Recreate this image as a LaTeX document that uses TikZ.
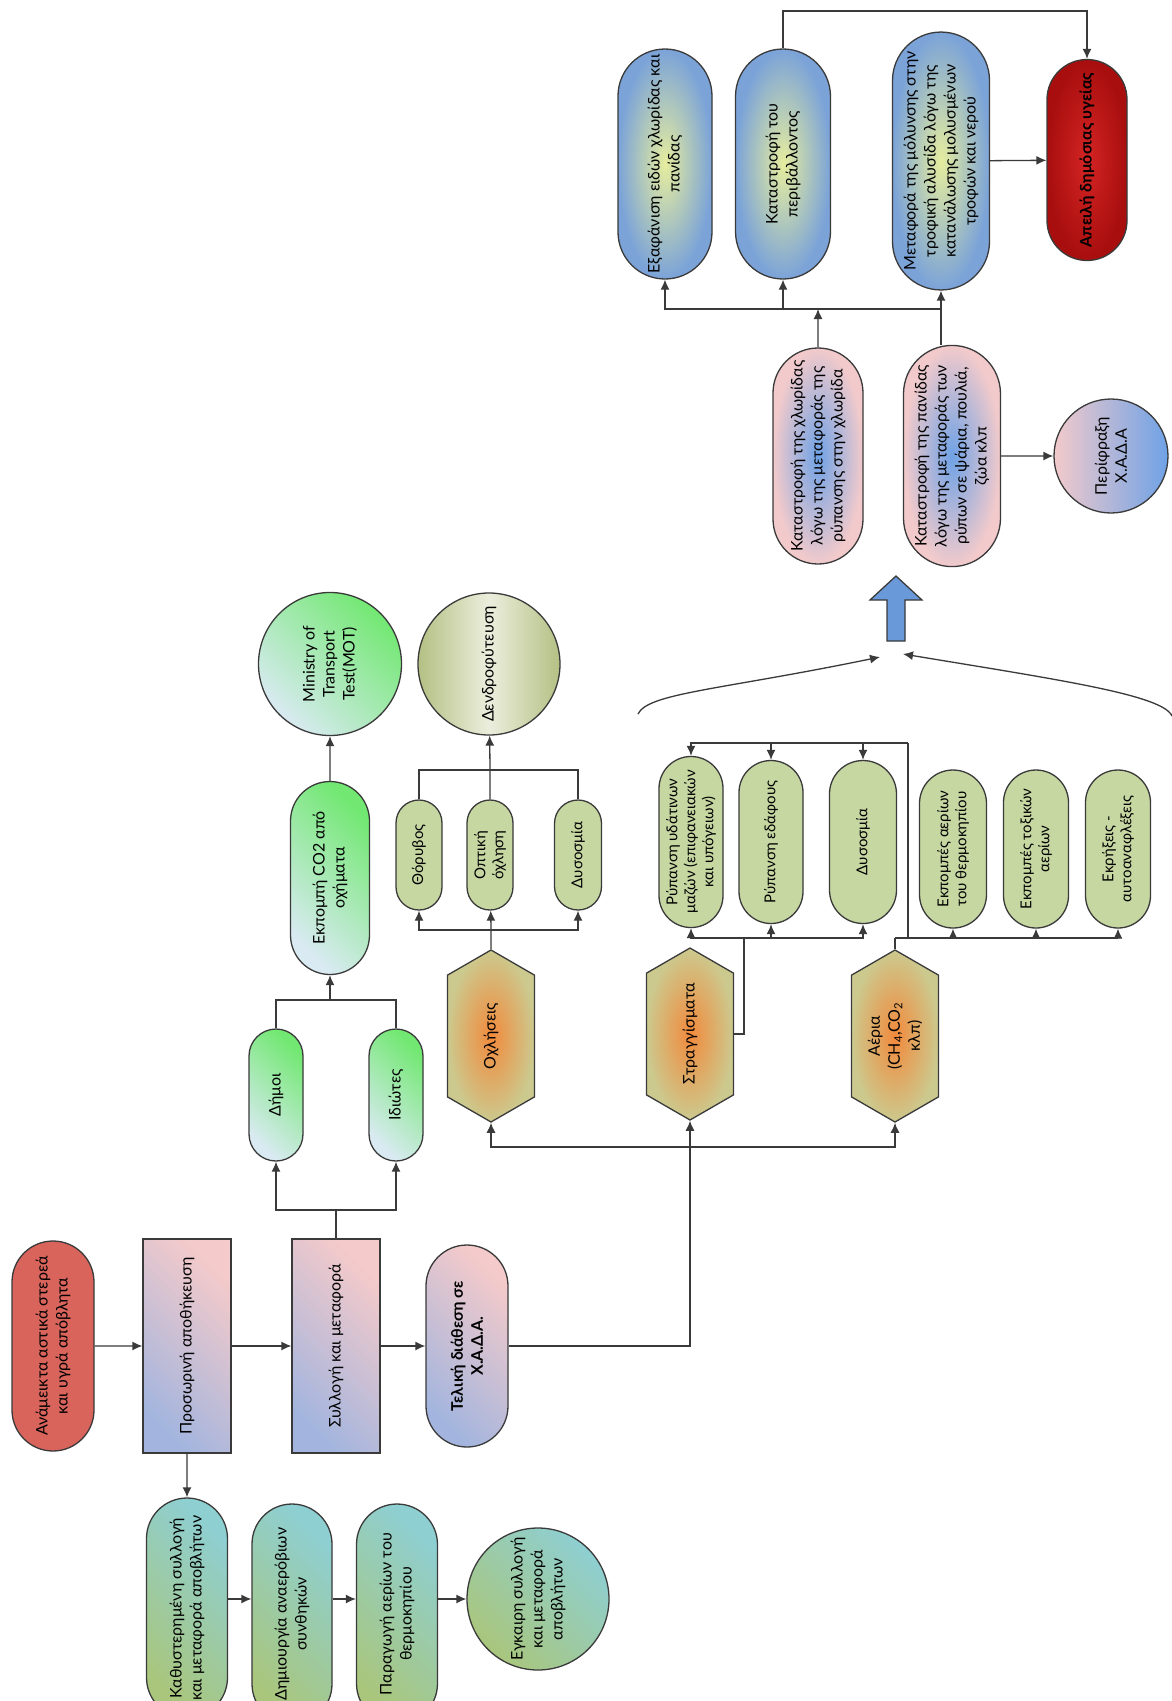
\documentclass[tikz,border=0pt]{standalone}
\usepackage{fontspec}
\setmainfont{Lato}
\usetikzlibrary{shapes.misc,shapes.symbols,calc,arrows.meta}

\definecolor{edge}{HTML}{3A3A3A}
\definecolor{mixred}{HTML}{D8645C}
\definecolor{pinkish}{HTML}{F4CACA}
\definecolor{bluish}{HTML}{A3B5DE}
\definecolor{leaf}{HTML}{A9C67C}
\definecolor{teal}{HTML}{8ECFD2}
\definecolor{skyish}{HTML}{D9EAF2}
\definecolor{lime}{HTML}{72E872}
\definecolor{olive}{HTML}{C6D7A2}
\definecolor{olivedark}{HTML}{B4C084}
\definecolor{olivelight}{HTML}{ECEEDD}
\definecolor{hexolive}{HTML}{CCC98E}
\definecolor{hexorange}{HTML}{F28A3C}
\definecolor{steel}{HTML}{7BA3D8}
\definecolor{sun}{HTML}{E6ED9E}
\definecolor{rose}{HTML}{F2CACB}
\definecolor{cobalt}{HTML}{6FA2E6}
\definecolor{alarm}{HTML}{D42424}
\definecolor{alarmdark}{HTML}{A80E0E}
\definecolor{bigblue}{HTML}{6A99D9}

\tikzset{
  ->/.style={draw=edge,line width=1.3pt,-{Latex[length=10pt,width=9pt]}},
  line/.style={draw=edge,line width=1.3pt},
  pill/.style={rounded rectangle,draw=edge,line width=1.3pt,rotate=90,inner sep=2pt,align=center},
  box/.style={rectangle,draw=edge,line width=1.3pt,rotate=90,inner sep=2pt,align=center},
  ball/.style={circle,draw=edge,line width=1.3pt,rotate=90,inner sep=1pt,align=center},
  hexa/.style={signal,signal to=east and west,signal pointer angle=120,draw=edge,line width=1.3pt,
    rotate=90,inner sep=2pt,align=center,inner color=hexorange,outer color=hexolive},
  redpill/.style={fill=mixred},
  pinkblue/.style={bottom color=bluish,top color=pinkish,shading angle=-45},
  leafteal/.style={bottom color=leaf,top color=teal,shading angle=-45},
  skylime/.style={bottom color=skyish,top color=lime,shading angle=-45},
  olivepill/.style={fill=olive},
  bluesun/.style={inner color=sun,outer color=steel},
  rosecobalt/.style={inner color=cobalt,outer color=rose},
  small/.style={font=\fontsize{15}{18}\selectfont}
}
\tikzstyle{every node}=[color=black,font=\fontsize{16}{20}\selectfont]

\begin{document}
\begin{tikzpicture}[x=1pt,y=-1pt]
    \useasboundingbox (0,0) rectangle (1172,1701);
    \fill[white] (0,0) rectangle (1172,1701);
    \clip (0,0) rectangle (1172,1701);

    % main chain
    \node[pill,redpill,minimum width=214pt,minimum height=82pt] (MIX) at (53,1346) {Ανάμεικτα αστικά στερεά\\και υγρά απόβλητα};
    \node[box,pinkblue,minimum width=214pt,minimum height=88pt] (TMP) at (187,1346) {Προσωρινή αποθήκευση};
    \node[box,pinkblue,minimum width=214pt,minimum height=88pt] (COL) at (336,1346) {Συλλογή και μεταφορά};
    \node[pill,pinkblue,minimum width=206pt,minimum height=82pt,font=\fontsize{16}{20}\selectfont\bfseries] (FIN) at (467,1346) {Τελική διάθεση σε\\Χ.Α.Δ.Α.};

    % bottom row
    \node[pill,leafteal,minimum width=224pt,minimum height=81pt] (LATE) at (187,1608) {Καθυστερημένη συλλογή\\και μεταφορά αποβλήτων};
    \node[pill,leafteal,minimum width=224pt,minimum height=80pt] (ANA) at (292,1614) {Δημιουργία αναερόβιων\\συνθηκών};
    \node[pill,leafteal,minimum width=224pt,minimum height=81pt] (GAS) at (397,1614) {Παραγωγή αερίων του\\θερμοκηπίου};
    \node[ball,leafteal,minimum size=142pt] (TIME) at (538,1599) {Εγκαιρη συλλογή\\και μεταφορά\\αποβλήτων};

    % vehicles
    \node[pill,skylime,minimum width=136pt,minimum height=54pt] (DIM) at (276,1095) {Δήμοι};
    \node[pill,skylime,minimum width=136pt,minimum height=54pt] (IDI) at (396,1095) {Ιδιώτες};
    \node[pill,skylime,minimum width=197pt,minimum height=79pt] (CO2) at (330,878) {Εκπομπή CO2 από\\οχήματα};
    \node[ball,skylime,minimum size=143pt] (MOT) at (330,664) {Ministry of\\Transport\\Test(MOT)};

    % nuisances
    \node[hexa,minimum width=172pt,minimum height=87pt] (OCH) at (491,1036) {Οχλήσεις};
    \node[pill,olivepill,small,minimum width=114pt,minimum height=46pt] (THO) at (419,855) {Θόρυβος};
    \node[pill,olivepill,small,minimum width=114pt,minimum height=46pt] (OPT) at (490,855) {Οπτική\\όχληση};
    \node[pill,olivepill,small,minimum width=114pt,minimum height=47pt] (DYS) at (578,855) {Δυσοσμία};
    \node[ball,left color=olivedark,right color=olivedark,middle color=olivelight,minimum size=142pt] (DEN) at (489,664) {Δενδροφύτευση};

    % leachate and gases
    \node[hexa,minimum width=172pt,minimum height=87pt] (STR) at (690,1034) {Στραγγίσματα};
    \node[hexa,minimum width=172pt,minimum height=87pt] (AER) at (895,1036) {Αέρια\\(CH\textsubscript{4},CO\textsubscript{2}\\κλπ)};
    \node[pill,olivepill,small,minimum width=167pt,minimum height=64pt] (WAT) at (691,842) {Ρύπανση υδάτινων\\μαζών (επιφανειακών\\και υπόγειων)};
    \node[pill,olivepill,small,minimum width=167pt,minimum height=64pt] (SOIL) at (771,842) {Ρύπανση εδάφους};
    \node[pill,olivepill,small,minimum width=167pt,minimum height=67pt] (ODR) at (863,842) {Δυσοσμία};
    \node[pill,olivepill,small,minimum width=162pt,minimum height=67pt] (GHG) at (953,849) {Εκπομπές αερίων\\του θερμοκηπίου};
    \node[pill,olivepill,small,minimum width=162pt,minimum height=65pt] (TOX) at (1036,849) {Εκπομπές τοξικών\\αερίων};
    \node[pill,olivepill,small,minimum width=162pt,minimum height=65pt] (EXP) at (1118,849) {Εκρήξεις -\\αυτοαναφλέξεις};

    % effects
    \node[pill,rosecobalt,minimum width=220pt,minimum height=90pt] (FLO) at (818,456) {Καταστροφή της χλωρίδας\\λόγω της μεταφοράς της\\ρύπανσης στην χλωρίδα};
    \node[pill,rosecobalt,minimum width=220pt,minimum height=97pt] (FAU) at (952,456) {Καταστροφή της πανίδας\\λόγω της μεταφοράς των\\ρύπων σε ψάρια, πουλιά,\\ζώα κλπ};
    \node[ball,left color=rose,right color=cobalt,minimum size=114pt] (FEN) at (1111,456) {Περίφραξη\\Χ.Α.Δ.Α};
    \node[pill,bluesun,minimum width=234pt,minimum height=94pt] (EXT) at (665,164) {Εξαφάνιση ειδών χλωρίδας και\\πανίδας};
    \node[pill,bluesun,minimum width=234pt,minimum height=95pt] (ENV) at (783,164) {Καταστροφή του\\περιβάλλοντος};
    \node[pill,bluesun,minimum width=241pt,minimum height=97pt] (FOOD) at (941,161) {Μεταφορά της μόλυνσης στην\\τροφική αλυσίδα λόγω της\\κατανάλωσης μολυσμένων\\τροφών και νερού};
    \node[pill,inner color=alarm,outer color=alarmdark,minimum width=205pt,minimum height=80pt,font=\fontsize{16}{20}\selectfont\bfseries] (RISK) at (1087,160) {Απειλή δημόσιας υγείας};

    % junctions
    \coordinate (J1) at (690,1147);
    \coordinate (J2) at (336,1210);
    \coordinate (J3) at (330,1000);
    \coordinate (J4) at (491,930);
    \coordinate (J5) at (490,770);
    \coordinate (J6) at (744,938);
    \coordinate (J7) at (895,938);
    \coordinate (J8) at (908,743);
    \coordinate (J10) at (818,309);
    \coordinate (J11) at (941,309);
    \coordinate (J12) at (1087,11);
    \coordinate (L0) at (638,714);
    \coordinate (L1) at (880,657);
    \coordinate (R0) at (1172,716);
    \coordinate (R1) at (903,654);

    \draw [->] (MIX) -- (TMP);
    \draw [->] (TMP) -- (COL);
    \draw [->] (COL) -- (FIN);
    \draw [->] (TMP) -- (LATE);
    \draw [->] (LATE.south |- TIME) -- (ANA.north |- TIME);
    \draw [->] (ANA.south |- TIME) -- (GAS.north |- TIME);
    \draw [->] (GAS.south |- TIME) -- (TIME);

    \draw [line] (COL) -- (J2);
    \draw [->] (J2) -| (DIM);
    \draw [->] (J2) -| (IDI);
    \draw [line] (DIM) |- (J3);
    \draw [line] (IDI) |- (J3);
    \draw [->] (J3) -- (CO2);
    \draw [->] (CO2) -- (MOT);

    \draw [line] (FIN) -| (J1);
    \draw [->] (J1) -| (OCH.west);
    \draw [->] (J1) -- (STR.west);
    \draw [->] (J1) -| (AER.west);

    \draw [line] (OCH) -- (J4);
    \draw [->] (J4) -| (THO);
    \draw [->] (J4) -- (OPT);
    \draw [->] (J4) -| (DYS);
    \draw [line] (THO) |- (J5);
    \draw [line] (DYS) |- (J5);
    \draw [line] (OPT) -- (J5);
    \draw [->] (J5) -- (DEN);

    \draw [line] (STR.south) -| (J6);
    \draw [->] (J6) -| (WAT);
    \draw [->] (J6) -| (SOIL);
    \draw [->] (J6) -| (ODR);
    \draw [line] (AER.east) -- (J7);
    \draw [->] (J7) -| (GHG);
    \draw [->] (J7) -| (TOX);
    \draw [->] (J7) -| (EXP);
    \draw [line] (J7) -| (J8);
    \draw [->] (J8) -| (WAT);
    \draw [->] (J8) -| (SOIL);
    \draw [->] (J8) -| (ODR);

    \draw [->] (L0) .. controls (648,693) and (720,690) .. (L1);
    \draw [->] (R0) .. controls (1163,695) and (1060,680) .. (R1);
    \draw [edge,line width=1.3pt,fill=bigblue] (896,576) -- (922,600) -- (905,600) -- (905,641)
      -- (887,641) -- (887,600) -- (870,600) -- cycle;

    \draw [->] (FLO) -- (J10);
    \draw [line] (J11 |- FAU.east) -- (J11);
    \draw [->] (J11) -| (EXT);
    \draw [->] (J11) -| (ENV);
    \draw [->] (J11) -- (FOOD);
    \draw [->] (FAU) -- (FEN);
    \draw [->] (ENV.east) -- (ENV.east |- J12) -- (J12) -- (RISK.east);
    \draw [->] (FOOD) -- (RISK);
\end{tikzpicture}
\end{document}
